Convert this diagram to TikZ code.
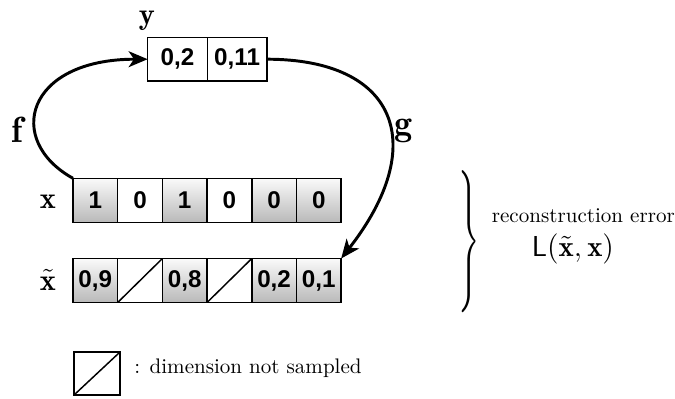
\documentclass[tikz,border=0pt]{standalone}
\usepackage{fontspec}
\usepackage{graphicx}
\newfontfamily\cellfont{Liberation Sans}
\usetikzlibrary{arrows.meta}

\begin{document}
\begin{tikzpicture}
[cell/.style={shape=rectangle,draw,line width=0.7pt,inner sep=0pt,outer sep=0pt,%
   minimum width=0.746cm,minimum height=0.734cm,font=\cellfont\fontsize{11.5}{13}\selectfont\bfseries},%
  fullcell/.style={cell,top color=gray!4,bottom color=gray!55},%
  emptycell/.style={cell,fill=white},%
  skipcell/.style={cell,fill=white,path picture={\draw[line width=0.7pt]
   (path picture bounding box.south west) -- (path picture bounding box.north east);}},%
  codecell/.style={cell,minimum width=0.995cm,minimum height=0.729cm},%
  arrowdecorate/.style={->,>={Stealth[length=9pt,width=7.5pt,inset=2.5pt]},line width=1.4pt}]
\useasboundingbox (0,0) rectangle (11.266,6.643);
%% input x and reconstruction
\foreach \i/\val/\kind in {
  1/1/fullcell, 2/0/emptycell, 3/1/fullcell, 4/0/emptycell, 5/0/fullcell, 6/0/fullcell} {
  \node (x\i) at ({0.845+0.746*\i},3.300) [\kind] {\val};
}
\foreach \i/\val/\kind in {
  1/{0,9}/fullcell, 2//skipcell, 3/{0,8}/fullcell, 4//skipcell, 5/{0,2}/fullcell,
  6/{0,1}/fullcell} {
  \node (xt\i) at ({0.845+0.746*\i},1.961) [\kind] {\val};
}
%% code y
\node (y1) at (2.962,5.655) [codecell] {0,2};
\node (y2) at (3.957,5.655) [codecell] {0,11};
%% labels
\node (xlabel) at (0.801,3.277) {\Large$\mathbf{x}$};
\node (xtlabel) at (0.801,1.970) {\Large$\tilde{\mathbf{x}}$};
\node (ylabel) at (2.453,6.300) {\Large$\mathbf{y}$};
\node (flabel) at (0.292,4.473) {\LARGE$\mathbf{f}$};
\node (glabel) at (6.743,4.456) {\LARGE$\mathbf{g}$};
%% encoder and decoder
\draw[arrowdecorate] (x1.north west)
  to[out=151,in=180,out looseness=1.42,in looseness=2.22] (y1.west);
\draw[arrowdecorate] (y2.east)
  to[out=0,in=52,out looseness=1.56,in looseness=1.74] (xt6.north east);
%% reconstruction error
\node (brace) at (7.83,2.604) [inner sep=0pt] {\scalebox{1.25}[2.25]{$\Bigg\}$}};
\node (recon) at (9.736,2.932) [anchor=base,inner sep=1pt] {reconstruction error};
\node (loss) at (9.563,2.358) [anchor=base,inner sep=1pt]
  {\fontsize{13.7}{16}\selectfont$\mathsf{L}(\tilde{\mathbf{x}},\mathbf{x})$};
%% legend
\node (legend) at (1.619,0.409) [skipcell,minimum width=0.768cm,minimum height=0.718cm] {};
\node (legendtext) at (2.237,0.409) [anchor=base west,inner sep=0pt] {: dimension not sampled};
\end{tikzpicture}
\end{document}
